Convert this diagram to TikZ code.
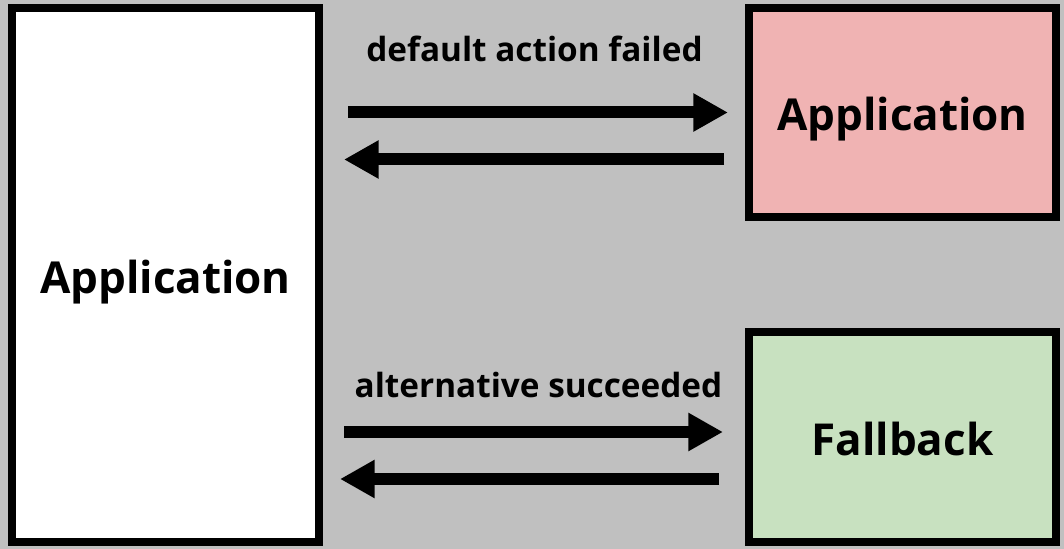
\documentclass[tikz,border=0pt]{standalone}
\usepackage{fontspec}
\setmainfont{Open Sans}
\usetikzlibrary{arrows.meta,calc}
\definecolor{bggray}{RGB}{192,192,192}
\definecolor{failpink}{RGB}{240,179,179}
\definecolor{okgreen}{RGB}{200,225,192}
\begin{document}
\begin{tikzpicture}[x=0.75pt,y=-0.75pt,
  box/.style={draw=black,line width=6pt,rectangle,inner sep=0pt,
    font=\fontsize{33}{38}\selectfont\bfseries,text height=27pt,text depth=0pt},
  msg/.style={font=\fontsize{25}{30}\selectfont\bfseries,anchor=base,inner sep=0pt},
  flow/.style={line width=9pt,-{Triangle[length=26pt,width=27pt]}}]
  % canvas
  \fill[bggray] (0,0) rectangle (1064,549);
  \useasboundingbox (0,0) rectangle (1064,549);
  % components
  \node[box,fill=white,minimum width=230.25pt,minimum height=400.5pt] (app) at (165.5,275) {Application};
  \node[box,fill=failpink,minimum width=230.25pt,minimum height=156.75pt] (remote) at (902.5,112.5) {Application};
  \node[box,fill=okgreen,minimum width=230.25pt,minimum height=157.5pt] (fallback) at (902.5,437) {Fallback};
  % messages to the failing application
  \node[msg] (lblfail) at (534.5,62) {default action failed};
  \draw[flow] ($(app.east|-remote.west)+(25,0)$) -- ($(remote.west)+(-17,0)$);
  \draw[flow] ($(remote.west)+(-21,47)$) -- ($(app.east|-remote.west)+(21,47)$);
  % messages to the fallback
  \node[msg] (lblalt) at (538.5,397) {alternative succeeded};
  \draw[flow] ($(app.east|-fallback.west)+(21,-5)$) -- ($(fallback.west)+(-22,-5)$);
  \draw[flow] ($(fallback.west)+(-26,42)$) -- ($(app.east|-fallback.west)+(17,42)$);
\end{tikzpicture}
\end{document}
